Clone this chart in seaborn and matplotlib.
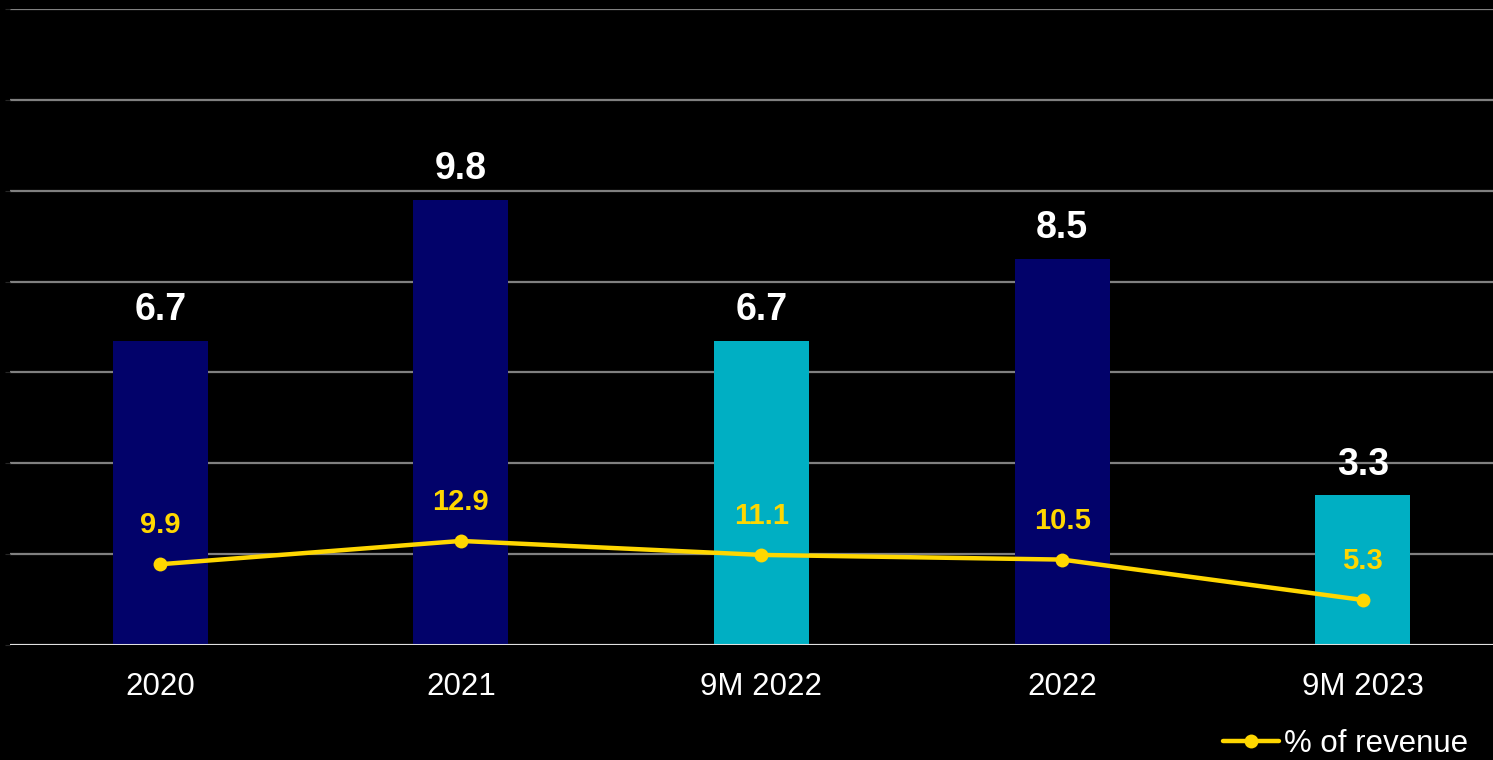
import matplotlib
matplotlib.use("Agg")
import matplotlib.pyplot as plt
import seaborn as sns
import numpy as np
import pandas as pd

categories = ["2020", "2021", "9M 2022", "2022", "9M 2023"]
values = [6.7, 9.8, 6.7, 8.5, 3.3]
pct_revenue = [9.9, 12.9, 11.1, 10.5, 5.3]
bar_colors = ["#02026A", "#02026A", "#00AFC3", "#02026A", "#00AFC3"]
line_label = "% of revenue"

sns.set_style("dark")
plt.rcParams["font.family"] = ["Liberation Sans", "DejaVu Sans"]

fig = plt.figure(figsize=(14.93, 7.6), dpi=100, facecolor="black")
ax = fig.add_axes([10 / 1493, 115 / 760, 1503 / 1493, 636 / 760])
ax.set_facecolor("black")

df = pd.DataFrame({"cat": categories, "val": values})
sns.barplot(data=df, x="cat", y="val", hue="cat", palette=bar_colors,
            legend=False, width=0.316, ax=ax, saturation=1,
            edgecolor="none", linewidth=0)
ax.set_ylim(0, 14)
ax.set_yticks(np.arange(0, 15, 2))
ax.yaxis.grid(True, color="#808080", linewidth=1.6)
ax.set_axisbelow(True)
ax.tick_params(axis="y", left=False, labelleft=False)
ax.tick_params(axis="x", bottom=False, colors="white", labelsize=22.5, pad=16)
ax.set_xlabel("")
ax.set_ylabel("")
for s in ax.spines.values():
    s.set_visible(False)
ax.axhline(0, color="#E0E0E0", linewidth=2.2, zorder=5)
for c in ax.containers:
    ax.bar_label(c, fmt="%.1f", padding=9, color="white",
                 fontsize=27, fontweight="bold")

ax2 = ax.twinx()
ax2.set_ylim(-0.5, 81.4)
ax2.axis("off")
ldf = pd.DataFrame({"x": np.arange(len(categories)), "pct": pct_revenue})
sns.lineplot(data=ldf, x="x", y="pct", ax=ax2, color="#FFD700", linewidth=3.2,
             marker="o", markersize=10, markeredgewidth=0, label=line_label,
             legend=False, sort=False)
for xi, v in zip(ldf["x"], pct_revenue):
    ax2.annotate(f"{v:.1f}", (xi, v), xytext=(0, 18), textcoords="offset points",
                 ha="center", va="bottom", color="#FFD700", fontsize=21,
                 fontweight="bold")
ax.set_xlim(-0.5, 4.5)

h, l = ax2.get_legend_handles_labels()
leg = fig.legend(h, l, loc="center right", bbox_to_anchor=(0.9855, 16 / 760),
                 frameon=False, fontsize=22.5, labelcolor="white",
                 handlelength=1.8, handletextpad=0.15, borderaxespad=0.0,
                 borderpad=0.1)

fig.savefig("out.png", dpi=100, facecolor="black")
